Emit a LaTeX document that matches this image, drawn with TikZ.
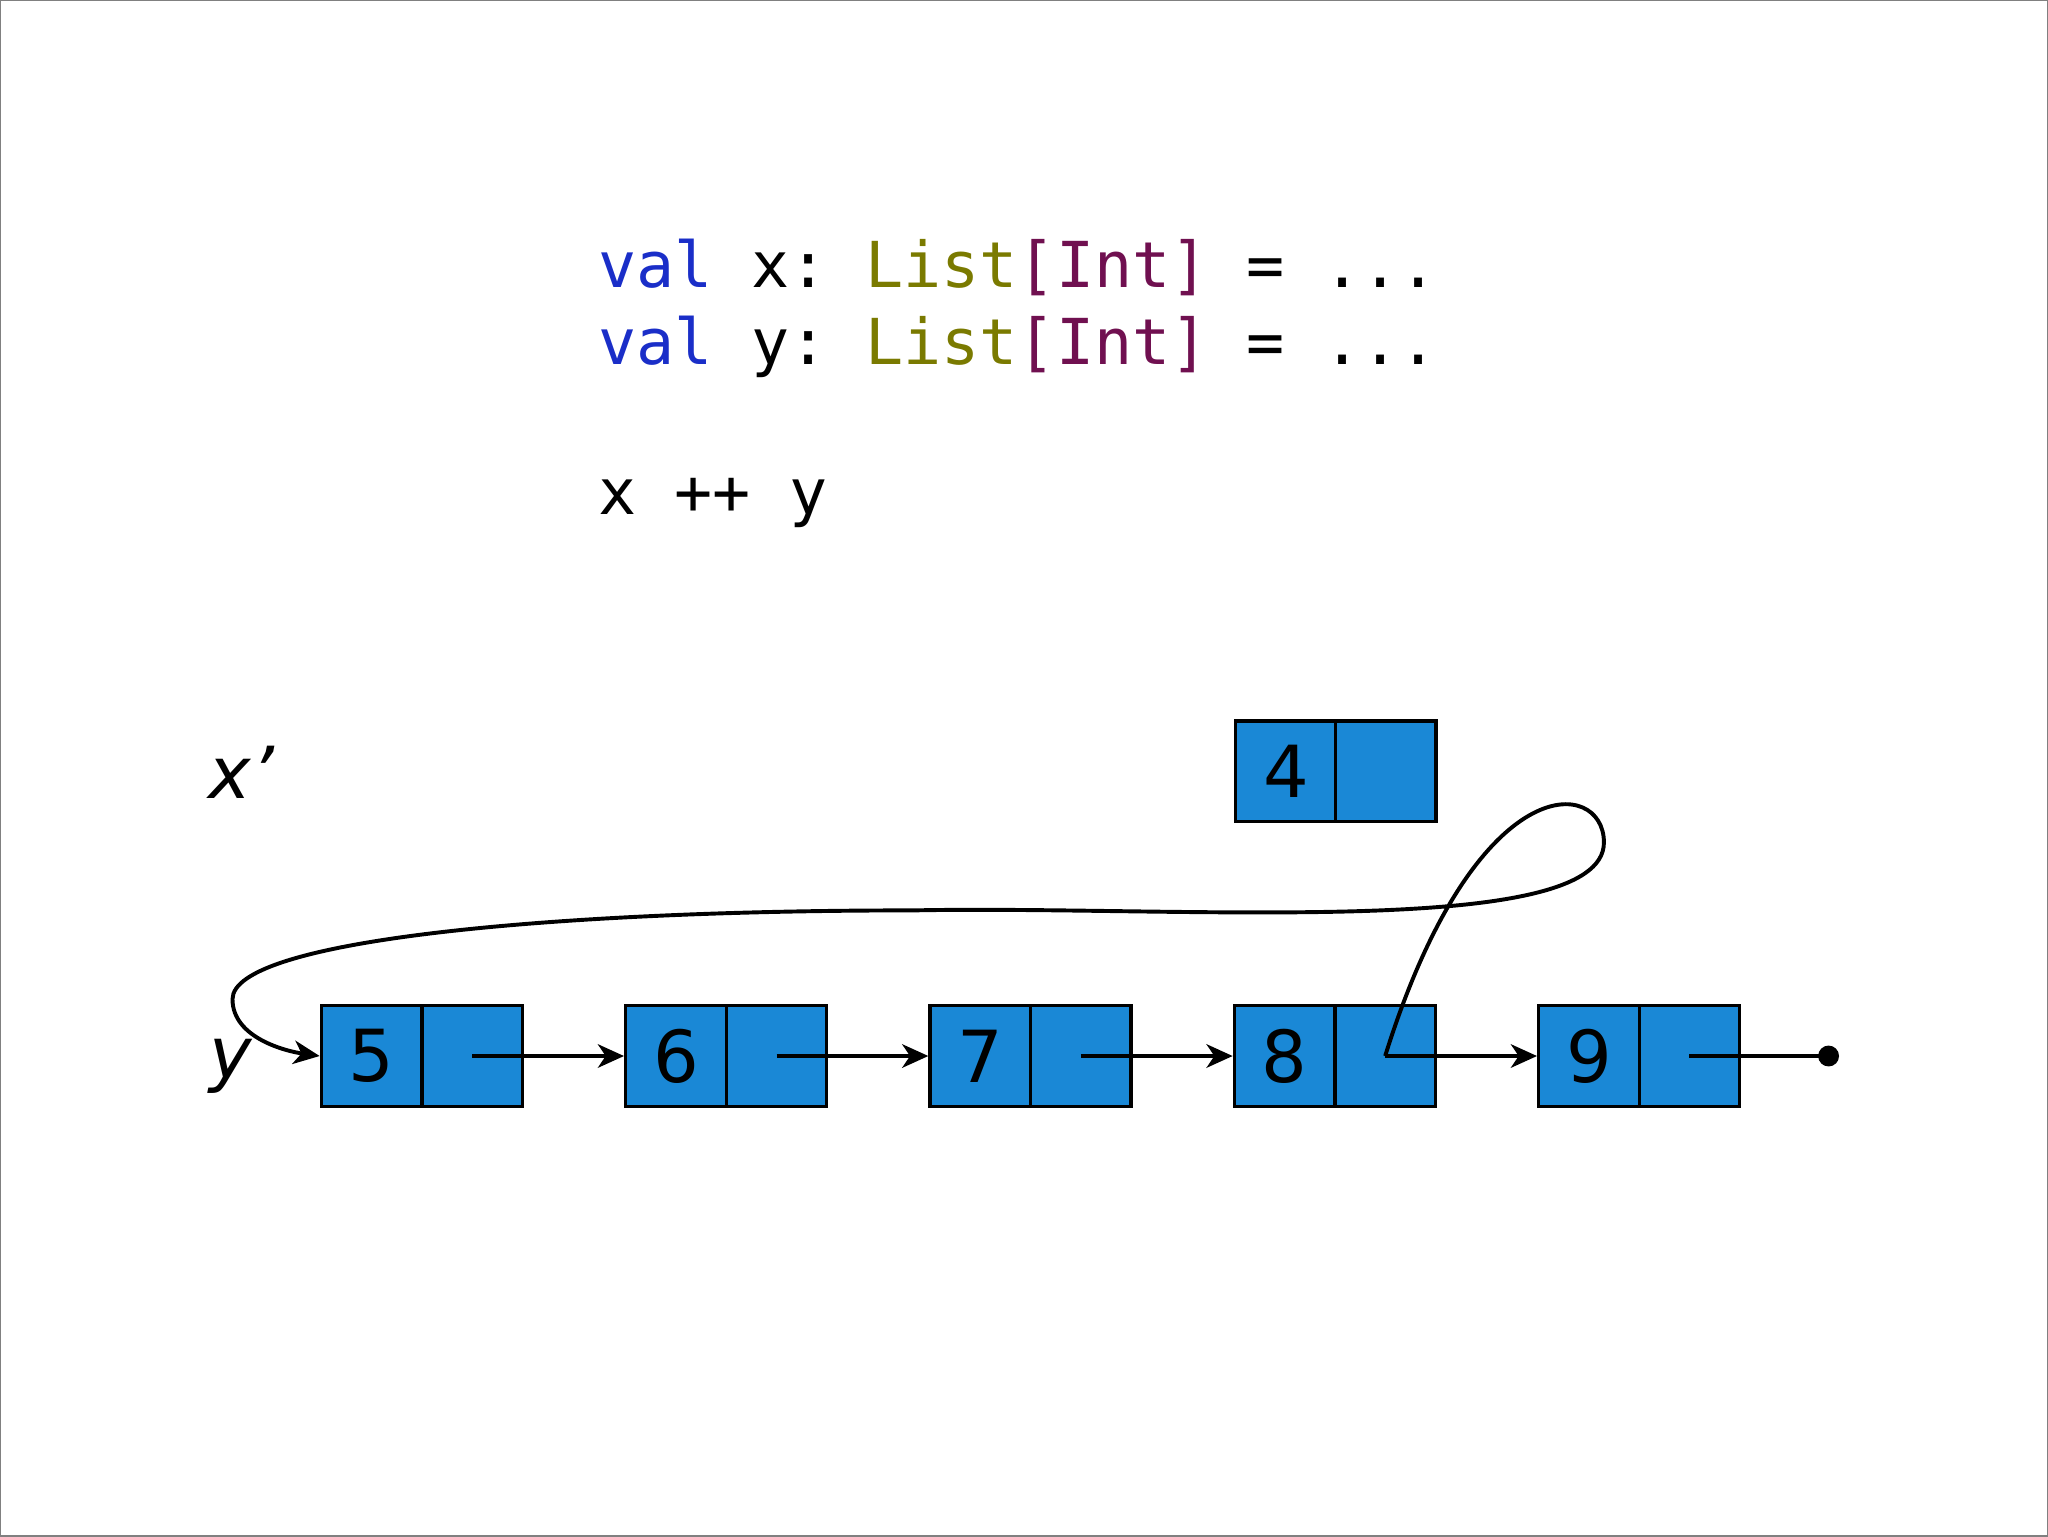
\documentclass[tikz,border=0pt]{standalone}
\usepackage{fontspec}
\setmainfont{DejaVu Sans}
\setmonofont{DejaVu Sans Mono}
\usetikzlibrary{arrows.meta}
\definecolor{cell}{HTML}{1A88D6}
\definecolor{kw}{HTML}{1A2EC8}
\definecolor{ty}{HTML}{7A7A00}
\definecolor{br}{HTML}{701050}
\begin{document}
\begin{tikzpicture}[x=1pt,y=-1pt,
  cellst/.style={draw=black,line width=2.5pt,fill=cell,minimum width=77pt,minimum height=77pt,inner sep=0pt,font=\fontsize{55}{55}\selectfont},
  ptr/.style={line width=3pt,-{Stealth[length=20pt,width=18pt,inset=6pt]}},
  code/.style={anchor=base west,inner sep=0pt,font=\ttfamily\fontsize{48.5}{50}\selectfont}]
\useasboundingbox (0,0) rectangle (1568,1176);
\draw[line width=1pt,gray] (0,0) rectangle (1568,1176);
\node[code] (l1) at (458,220) {\textcolor{kw}{val} x: \textcolor{ty}{List}\textcolor{br}{[Int]} = ...};
\node[code] (l2) at (458,279) {\textcolor{kw}{val} y: \textcolor{ty}{List}\textcolor{br}{[Int]} = ...};
\node[code] (l3) at (458,394) {x ++ y};
\node[anchor=base,font=\itshape\fontsize{55}{55}\selectfont] (xl) at (185,611) {x’};
\node[anchor=base,font=\itshape\fontsize{55}{55}\selectfont] (yl) at (177,826) {y};
% x' node 4
\node[cellst] (a4) at (984.5,590.5) {4};
\node[cellst] (b4) at (1061,590.5) {};
\foreach \v/\x [count=\i] in {5/284.5,6/517.5,7/750.5,8/983.5,9/1216.5}{
  \node[cellst] (a\i) at (\x,808.5) {\v};
  \node[cellst] (b\i) at (\x+77,808.5) {};
}
\foreach \i/\j in {1/2,2/3,3/4,4/5}{
  \draw[ptr] (b\i.center) -- (a\j.west);
}
\coordinate (end) at (1400,808.5);
\draw[line width=3pt] (b5.center) -- (end);
\fill (end) circle (8pt);
\coordinate (c1) at (1228,645);
\coordinate (c2) at (700,697);
\coordinate (c3) at (178,765);
\draw[ptr] (b4.center) .. controls (1130,586) and (1228,595) .. (c1)
  .. controls (1228,720) and (900,693) .. (c2)
  .. controls (420,697) and (178,720) .. (c3)
  .. controls (178,795) and (220,805) .. (a1.west);
\end{tikzpicture}
\end{document}
